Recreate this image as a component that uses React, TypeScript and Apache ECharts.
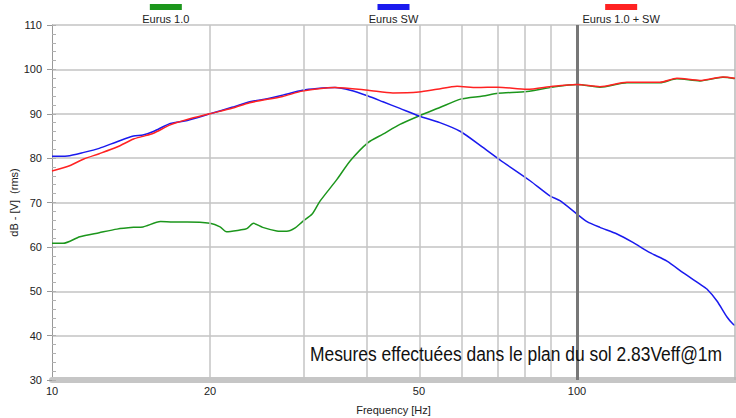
import React, { useEffect, useRef } from "react";
import * as echarts from "echarts";

// ---- Data ----
const SERIES_NAMES = ["Eurus 1.0", "Eurus SW", "Eurus 1.0 + SW"];
const SERIES_COLORS = ["#1c961c", "#1a1aee", "#ff2222"];

const greenFreq = [10.0, 10.5, 11.3, 12.3, 13.3, 14.3, 14.9, 16.1, 17.0, 18.1, 20.0, 20.9, 21.5, 22.8, 23.5, 24.2, 25.2, 26.8, 28.0, 29.0, 30.0, 31.3, 32.4, 34.9, 37.0, 40.0, 42.7, 46.0, 50.0, 54.8, 60.0, 66.2, 70.7, 80.3, 90.0, 100, 110.6, 124.5, 143.9, 155.0, 171.5, 189.7, 200];
const greenDb = [60.8, 60.8, 62.3, 63.2, 64.0, 64.4, 64.5, 65.7, 65.6, 65.6, 65.3, 64.5, 63.4, 63.8, 64.1, 65.3, 64.4, 63.6, 63.5, 64.2, 65.7, 67.4, 70.3, 75.2, 79.4, 83.5, 85.4, 87.6, 89.5, 91.4, 93.3, 94.0, 94.6, 95.0, 96.0, 96.6, 96.0, 97.0, 97.0, 97.9, 97.4, 98.2, 97.9];

const blueFreq = [10.0, 10.7, 11.5, 12.3, 13.3, 14.3, 14.9, 15.6, 16.8, 18.1, 20.0, 22.1, 23.8, 25.7, 27.5, 30.0, 32.0, 34.6, 37.0, 40.0, 42.7, 46.0, 50.0, 54.8, 60.0, 66.2, 71.3, 81.4, 88.8, 92.8, 100, 104.5, 110.6, 119.2, 127.8, 137.7, 148.4, 159.2, 171.5, 176.8, 184.8, 193.1, 198.2, 200];
const blueDb = [80.4, 80.5, 81.3, 82.2, 83.7, 85.0, 85.2, 86.0, 87.8, 88.5, 90.0, 91.5, 92.7, 93.4, 94.2, 95.3, 95.7, 95.9, 95.3, 94.0, 92.7, 91.2, 89.5, 88.0, 86.0, 82.4, 79.6, 74.9, 71.5, 70.4, 67.4, 65.7, 64.4, 62.9, 61.0, 58.7, 56.8, 54.2, 51.6, 50.5, 47.8, 44.2, 42.6, 42.3];

const redFreq = [10.0, 10.7, 11.5, 12.3, 13.3, 14.3, 14.9, 15.6, 16.8, 18.1, 20.0, 22.1, 23.8, 27.5, 30.0, 34.6, 40.0, 44.6, 50.0, 54.1, 59.1, 64.5, 70.7, 80.3, 90.0, 100, 110.6, 124.5, 143.9, 155.0, 171.5, 189.7, 200];
const redDb = [77.1, 78.1, 79.8, 81.0, 82.5, 84.3, 84.9, 85.6, 87.5, 88.7, 90.0, 91.3, 92.5, 93.9, 95.1, 95.9, 95.3, 94.7, 94.9, 95.5, 96.2, 95.9, 96.0, 95.5, 96.2, 96.6, 96.1, 97.1, 97.1, 98.0, 97.5, 98.3, 98.0];

const X_MIN_HZ = 10;
const X_MAX_HZ = 200;
const X_LABEL_HZ = [10, 20, 50, 100];
const X_GRID_HZ = [20, 30, 40, 50, 60, 70, 80, 90];
const X_MARK_HZ = 100;
const Y_MIN = 30;
const Y_MAX = 110;

const NOTE = "Mesures effectuées dans le plan du sol 2.83Veff@1m";
const FONT = "'Liberation Sans', Arial, sans-serif";

const lg = (f: number) => Math.log10(f);
const toPairs = (fs: number[], vs: number[]) => fs.map((f, i) => [lg(f), vs[i]]);

export default function App() {
  const ref = useRef<HTMLDivElement>(null);
  useEffect(() => {
    document.body.style.margin = "0";
    if (!ref.current) return;
    const chart = echarts.init(ref.current, undefined, { renderer: "svg" });
    const gridLeft = 52;
    const gridRight = 1;
    const W = 736;
    const plotW = W - gridLeft - gridRight;
    const datasets = [toPairs(greenFreq, greenDb), toPairs(blueFreq, blueDb), toPairs(redFreq, redDb)];

    const legendGraphics: any[] = [];
    SERIES_NAMES.forEach((name, i) => {
      const cx = gridLeft + plotW * (i + 0.5) / 3;
      legendGraphics.push({
        type: "rect",
        shape: { x: cx - 16, y: 4, width: 32, height: 6 },
        style: { fill: SERIES_COLORS[i] },
      });
      legendGraphics.push({
        type: "text",
        x: cx,
        y: 13,
        style: { text: name, fill: "#222", font: `11px ${FONT}`, textAlign: "center", textVerticalAlign: "top" },
      });
    });

    chart.setOption({
      animation: false,
      textStyle: { fontFamily: FONT },
      grid: { left: gridLeft, right: gridRight, top: 25, bottom: 38, containLabel: false, outerBoundsMode: "none" },
      xAxis: {
        type: "value",
        min: lg(X_MIN_HZ),
        max: lg(X_MAX_HZ),
        name: "Frequency [Hz]",
        nameLocation: "middle",
        nameGap: 24,
        nameMoveOverlap: false,
        nameTextStyle: { color: "#222", fontSize: 11, fontFamily: FONT },
        axisLine: { show: true, lineStyle: { color: "#c6c6c6", width: 6 } },
        axisTick: { show: false },
        splitLine: { show: false },
        axisLabel: {
          customValues: X_LABEL_HZ.map(lg),
          formatter: (v: number) => String(Math.round(Math.pow(10, v))),
          color: "#222",
          fontSize: 11,
          margin: 5,
          fontFamily: FONT,
        },
      },
      yAxis: [
        {
          type: "value",
          position: "left",
          min: Y_MIN,
          max: Y_MAX,
          interval: 10,
          name: "dB - [V]  (rms)",
          nameLocation: "middle",
          nameGap: 33,
          nameMoveOverlap: false,
          nameTextStyle: { color: "#222", fontSize: 11, fontFamily: FONT },
          axisLine: { show: true, lineStyle: { color: "#999", width: 1 } },
          axisTick: { show: true, length: 5, lineStyle: { color: "#999" } },
          axisLabel: { color: "#222", fontSize: 11, margin: 10, fontFamily: FONT },
          splitLine: { show: true, lineStyle: { color: "#d2d2d2", width: 2 } },
        },
        {
          type: "value",
          position: "left",
          min: Y_MIN,
          max: Y_MAX,
          interval: 2,
          axisLine: { show: false },
          axisTick: { show: true, inside: true, length: 4, lineStyle: { color: "#b0b0b0" } },
          axisLabel: { show: false },
          splitLine: { show: false },
        },
      ],
      graphic: [
        ...legendGraphics,
        {
          type: "text",
          x: 722,
          y: 343,
          scaleX: 0.83,
          z: 10,
          style: { text: NOTE, fill: "#111", font: `21px ${FONT}`, textAlign: "right" },
        },
      ],
      series: [
        {
          type: "line",
          name: "grid",
          data: [],
          z: 1,
          silent: true,
          markLine: {
            silent: true,
            symbol: ["none", "none"],
            label: { show: false },
            lineStyle: { type: "solid", color: "#c4c4c4", width: 1.5 },
            data: [
              ...X_GRID_HZ.map((f) => ({ xAxis: lg(f) })),
              { xAxis: lg(X_MAX_HZ), lineStyle: { color: "#b8b8b8", width: 1.5 } },
              { xAxis: lg(X_MARK_HZ), lineStyle: { color: "#777", width: 3 } },
            ],
          },
        },
        ...SERIES_NAMES.map((name, i) => ({
          type: "line",
          name,
          data: datasets[i],
          z: 3 + i,
          showSymbol: false,
          smooth: 0.25,
          lineStyle: { color: SERIES_COLORS[i], width: 1.5 },
          itemStyle: { color: SERIES_COLORS[i] },
        })),
      ],
    });
    return () => chart.dispose();
  }, []);
  return <div ref={ref} style={{ width: 736, height: 418 }} />;
}
